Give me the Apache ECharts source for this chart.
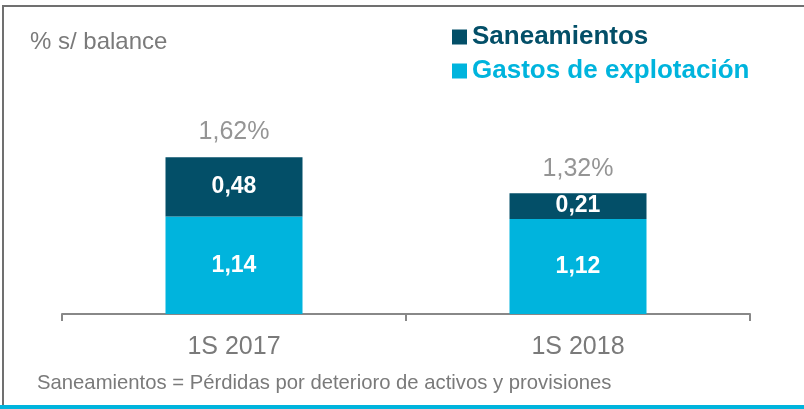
<!DOCTYPE html>
<html>
<head>
<meta charset="utf-8">
<script src="https://cdn.jsdelivr.net/npm/echarts@6/dist/echarts.min.js"></script>
<style>
  html, body { margin: 0; padding: 0; background: #fff; }
  #chart { width: 804px; height: 409px; }
</style>
</head>
<body>
<div id="chart"></div>
<script>
const categories = ["1S 2017", "1S 2018"];
const gastos = [1.14, 1.12];
const saneamientos = [0.48, 0.21];
const totals = [1.62, 1.32];

const DARK = "#034f68";
const CYAN = "#00b4dd";
const GREY = "#7a7a7a";
const FONT = "Liberation Sans, Arial, sans-serif";

const fmt = (v) => v.toFixed(2).replace(".", ",");

const chart = echarts.init(document.getElementById("chart"));

const option = {
  animation: false,
  textStyle: { fontFamily: FONT },
  title: {
    text: "% s/ balance",
    left: 25,
    top: 25,
    textStyle: { color: GREY, fontSize: 24, fontWeight: "normal", fontFamily: FONT },
  },
  legend: {
    orient: "vertical",
    left: 447,
    top: 19,
    icon: "rect",
    itemWidth: 15,
    itemHeight: 15,
    itemGap: 8,
    data: [
      { name: "Saneamientos", textStyle: { color: DARK } },
      { name: "Gastos de explotación", textStyle: { color: CYAN } },
    ],
    textStyle: { fontSize: 26, fontWeight: "bold", fontFamily: FONT },
  },
  grid: {
    left: 62,
    right: 54,
    top: 110.5,
    bottom: 95,
  },
  xAxis: {
    type: "category",
    data: categories,
    axisLine: { lineStyle: { color: "#888", width: 2 } },
    axisTick: { show: true, length: 7, lineStyle: { color: "#888", width: 2 } },
    axisLabel: { color: GREY, fontSize: 25, margin: 21, fontFamily: FONT },
  },
  yAxis: {
    type: "value",
    min: 0.35,
    max: 2.0,
    show: false,
    splitLine: { show: false },
  },
  series: [
    {
      name: "Gastos de explotación",
      type: "bar",
      stack: "total",
      barWidth: 137,
      itemStyle: { color: CYAN },
      label: {
        show: true,
        position: "inside",
        color: "#fff",
        fontSize: 23,
        fontWeight: "bold",
        formatter: (p) => fmt(p.value),
      },
      data: gastos,
    },
    {
      name: "Saneamientos",
      type: "bar",
      stack: "total",
      barWidth: 137,
      itemStyle: { color: DARK },
      label: {
        show: true,
        position: "inside",
        color: "#fff",
        fontSize: 23,
        fontWeight: "bold",
        formatter: (p) => fmt(p.value),
      },
      data: saneamientos,
    },
    {
      name: "Total",
      type: "scatter",
      symbolSize: 0,
      silent: true,
      label: {
        show: true,
        position: "top",
        distance: 13,
        color: GREY,
        fontSize: 25,
        formatter: (p) => fmt(p.value) + "%",
      },
      data: totals,
    },
  ],
  graphic: [
    { type: "rect", shape: { x: 2, y: 5, width: 802, height: 2 }, style: { fill: "#707070" } },
    { type: "rect", shape: { x: 2, y: 5, width: 2, height: 400 }, style: { fill: "#707070" } },
    { type: "rect", shape: { x: 0, y: 405, width: 804, height: 4 }, style: { fill: CYAN } },
    {
      type: "text",
      left: 37,
      top: 373,
      style: {
        text: "Saneamientos = Pérdidas por deterioro de activos y provisiones",
        fill: GREY,
        fontSize: 20.3,
        fontFamily: FONT,
      },
    },
  ],
};

chart.setOption(option);
</script>
</body>
</html>
